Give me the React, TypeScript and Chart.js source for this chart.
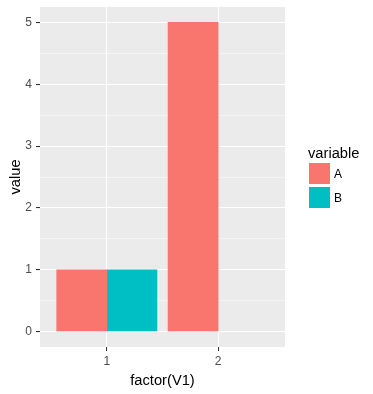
import { useEffect, useRef } from 'react';
import { Chart, registerables } from 'chart.js';

Chart.register(...registerables);

const categories = [1, 2];
const seriesNames = ['A', 'B'];
const valuesA: (number | null)[] = [1, 5];
const valuesB: (number | null)[] = [1, null];
const seriesColors = ['#F8766D', '#00BFC4'];
const yMajorTicks = [0, 1, 2, 3, 4, 5];
const yMinorTicks = [0.5, 1.5, 2.5, 3.5, 4.5];
const xTitle = 'factor(V1)';
const yTitle = 'value';
const legendTitle = 'variable';

const FONT = '"Liberation Sans", Arial, sans-serif';
const DODGE = 0.9;

export default function App() {
  const ref = useRef<HTMLCanvasElement>(null);

  useEffect(() => {
    document.body.style.margin = '0';
    const canvas = ref.current;
    if (!canvas) return;
    const series = [valuesA, valuesB];
    const n = series.length;
    const datasets = series.map((vals, si) => ({
      label: seriesNames[si],
      backgroundColor: seriesColors[si],
      borderWidth: 0,
      grouped: false,
      categoryPercentage: 1,
      barPercentage: 1,
      data: categories
        .map((c, ci) => ({ x: c - DODGE / 2 + (DODGE / n) * (si + 0.5), y: vals[ci] }))
        .filter((p) => p.y !== null),
    }));

    const panelBg = {
      id: 'panelBg',
      beforeDraw(chart: any) {
        const { ctx, chartArea: a } = chart;
        ctx.save();
        ctx.fillStyle = '#EBEBEB';
        ctx.fillRect(a.left, a.top, a.right - a.left, a.bottom - a.top);
        ctx.restore();
      },
    };

    const ggLegend = {
      id: 'ggLegend',
      afterDraw(chart: any) {
        const { ctx, chartArea: a } = chart;
        const x0 = a.right + 24;
        ctx.save();
        ctx.fillStyle = '#000000';
        ctx.font = `14.7px ${FONT}`;
        ctx.textAlign = 'left';
        ctx.textBaseline = 'alphabetic';
        ctx.fillText(legendTitle, x0 - 1, 158);
        chart.data.datasets.forEach((ds: any, i: number) => {
          const y = 163 + i * 24;
          ctx.fillStyle = ds.backgroundColor;
          ctx.fillRect(x0, y, 21, 21);
          ctx.fillStyle = '#000000';
          ctx.font = `12px ${FONT}`;
          ctx.textBaseline = 'middle';
          ctx.fillText(ds.label, x0 + 25, y + 12);
        });
        ctx.restore();
      },
    };

    const isMajor = (v: number) => yMajorTicks.includes(v);

    const chart = new Chart(canvas, {
      type: 'bar',
      data: { datasets: datasets as any },
      plugins: [panelBg, ggLegend],
      options: {
        animation: false,
        responsive: false,
        layout: { padding: { left: 0, right: 88, top: 7, bottom: 0 } },
        plugins: { legend: { display: false }, tooltip: { enabled: false } },
        scales: {
          x: {
            type: 'linear',
            min: 0.4,
            max: 2.6,
            offset: false,
            border: { display: false },
            grid: {
              offset: false,
              color: '#FFFFFF',
              lineWidth: 1.07,
              tickColor: '#333333',
              tickLength: 4,
              tickWidth: 1.07,
            },
            afterBuildTicks: (scale: any) => {
              scale.ticks = categories.map((v) => ({ value: v }));
            },
            afterFit: (scale: any) => {
              scale.height = 47;
              scale.paddingLeft = 0;
              scale.paddingRight = 0;
            },
            ticks: {
              autoSkip: false,
              maxRotation: 0,
              padding: 3,
              color: '#4D4D4D',
              font: { family: FONT, size: 12 },
              callback: (v: any) => String(v),
            },
            title: {
              display: true,
              text: xTitle,
              color: '#000000',
              font: { family: FONT, size: 14.7 },
              padding: { top: 0, bottom: 4 },
            },
          },
          y: {
            type: 'linear',
            min: -0.25,
            max: 5.25,
            border: { display: false },
            grid: {
              color: '#FFFFFF',
              lineWidth: (c: any) => (isMajor(c.tick?.value) ? 1.07 : 0.53),
              tickColor: (c: any) => (isMajor(c.tick?.value) ? '#333333' : 'rgba(0,0,0,0)'),
              tickLength: 4,
              tickWidth: 1.07,
            },
            afterBuildTicks: (scale: any) => {
              scale.ticks = [...yMajorTicks, ...yMinorTicks]
                .sort((p, q) => p - q)
                .map((v) => ({ value: v }));
            },
            afterFit: (scale: any) => {
              scale.width = 40;
              scale.paddingTop = 0;
              scale.paddingBottom = 0;
            },
            ticks: {
              autoSkip: false,
              padding: 4,
              color: '#4D4D4D',
              font: { family: FONT, size: 12 },
              callback: (v: any) => (isMajor(v) ? String(v) : ''),
            },
            title: {
              display: true,
              text: yTitle,
              color: '#000000',
              font: { family: FONT, size: 14.7 },
              padding: { top: 7, bottom: 0 },
            },
          },
        },
      },
    });
    return () => chart.destroy();
  }, []);

  return <canvas ref={ref} width={373} height={394} style={{ display: 'block' }} />;
}
